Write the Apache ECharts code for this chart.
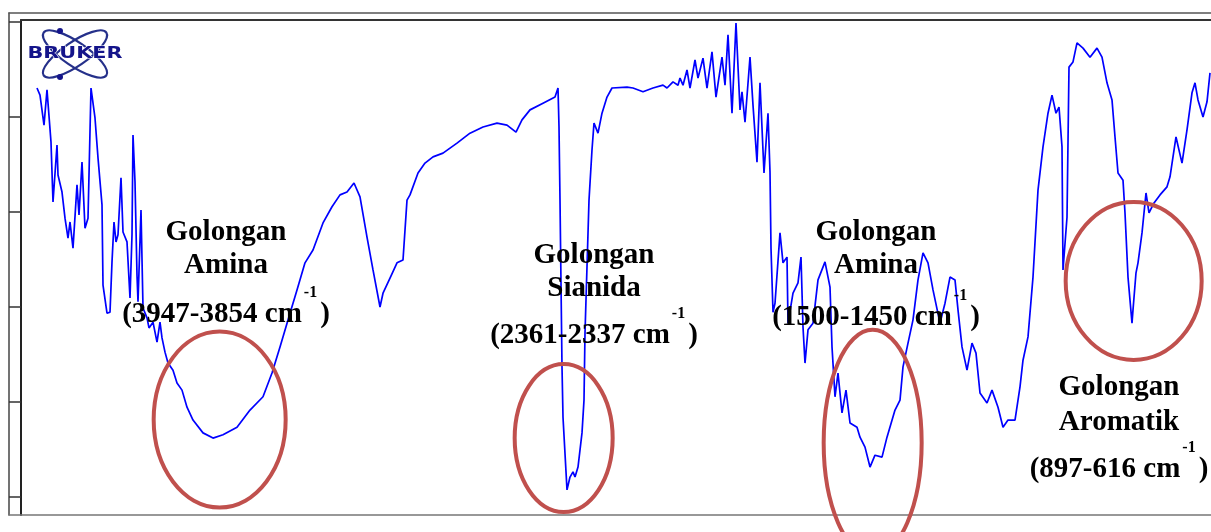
<!DOCTYPE html>
<html>
<head>
<meta charset="utf-8">
<title>FTIR</title>
<script src="https://cdn.jsdelivr.net/npm/echarts@6/dist/echarts.min.js"></script>
<style>
  html, body { margin: 0; padding: 0; background: #fff; }
  #chart { width: 1211px; height: 532px; }
</style>
</head>
<body>
<div id="chart"></div>
<script>
// wavenumber (cm-1) and transmittance (%)
const wavenumber = [
  3952, 3943, 3931, 3922, 3919, 3910, 3907, 3904, 3892, 3889, 3877, 3868, 3859, 3853, 3844, 3832, 3826, 3817, 3808, 3799,
  3790, 3778, 3769, 3757, 3754, 3742, 3733, 3727, 3721, 3715, 3709, 3700, 3694, 3682, 3673, 3667, 3664, 3658, 3652, 3649,
  3640, 3634, 3622, 3616, 3604, 3592, 3583, 3577, 3568, 3559, 3544, 3532, 3517, 3502, 3484, 3454, 3424, 3394, 3352, 3313,
  3274, 3247, 3223, 3193, 3172, 3148, 3124, 3094, 3067, 3043, 3022, 3001, 2983, 2962, 2944, 2923, 2914, 2893, 2872, 2854,
  2842, 2833, 2809, 2788, 2764, 2734, 2692, 2653, 2614, 2572, 2542, 2515, 2497, 2473, 2434, 2398, 2389, 2386, 2383, 2377,
  2374, 2362, 2353, 2344, 2338, 2329, 2317, 2311, 2308, 2296, 2287, 2281, 2269, 2257, 2242, 2227, 2182, 2164, 2134, 2104,
  2074, 2062, 2044, 2029, 2023, 2014, 2002, 1993, 1978, 1969, 1954, 1942, 1927, 1915, 1897, 1888, 1879, 1867, 1855, 1843,
  1837, 1828, 1813, 1804, 1792, 1783, 1771, 1759, 1753, 1750, 1744, 1738, 1723, 1714, 1702, 1699, 1684, 1669, 1660, 1654,
  1648, 1639, 1624, 1609, 1588, 1573, 1567, 1558, 1549, 1537, 1525, 1513, 1492, 1483, 1468, 1453, 1438, 1417, 1402, 1378,
  1363, 1354, 1339, 1324, 1309, 1294, 1279, 1264, 1243, 1228, 1213, 1198, 1189, 1177, 1162, 1147, 1135, 1123, 1102, 1087,
  1069, 1054, 1039, 1018, 1003, 994, 979, 964, 949, 934, 919, 907, 895, 886, 877, 874, 862, 856, 844, 832,
  814, 793, 772, 757, 742, 727, 718, 709, 694, 688, 679, 667, 664, 655, 649, 637, 625, 616, 601, 583,
  562, 553, 535, 517, 502, 487, 478, 469, 454, 442, 433
];
const transmittance = [
  86.1, 84.6, 78.3, 85.7, 85.3, 74.7, 68.4, 62.1, 74.1, 67.8, 64.2, 58.7, 54.5, 57.9, 52.4, 65.7, 59.4, 70.5, 56.6, 58.7,
  86.1, 79.8, 71.4, 61.5, 44.6, 38.7, 38.9, 49.5, 57.9, 53.7, 55.2, 67.2, 55.8, 53.7, 41.9, 55.2, 76.2, 66.3, 46.7, 41.1,
  60.4, 39.8, 37.7, 35.6, 36.8, 32.6, 36.8, 33.5, 30.5, 28.2, 26.7, 24.0, 22.5, 18.9, 16.2, 13.5, 12.4, 13.1, 14.7, 18.3,
  21.1, 26.1, 31.6, 38.7, 43.6, 49.3, 52.0, 57.7, 61.1, 63.6, 64.2, 66.1, 63.2, 54.7, 47.8, 40.0, 42.9, 46.1, 49.3, 49.9,
  62.5, 63.6, 68.2, 70.3, 71.6, 72.4, 74.5, 76.6, 77.9, 78.7, 78.3, 76.8, 79.4, 81.5, 82.9, 84.2, 86.1, 77.9, 62.5, 27.4,
  16.8, 1.5, 4.2, 5.3, 4.2, 6.3, 13.5, 20.4, 34.5, 62.5, 73.1, 78.7, 76.6, 80.8, 84.2, 86.1, 86.3, 86.1, 85.3, 86.1,
  86.7, 86.1, 87.4, 86.7, 88.2, 86.7, 89.9, 86.1, 92.0, 88.2, 92.4, 86.1, 93.7, 84.2, 92.6, 86.7, 97.3, 80.8, 99.8, 81.5,
  85.3, 78.9, 92.6, 82.5, 70.5, 87.2, 68.2, 80.8, 68.4, 52.4, 38.9, 40.8, 55.6, 49.3, 50.5, 36.6, 42.9, 45.1, 50.5, 35.8,
  28.2, 35.2, 36.6, 45.7, 49.5, 44.2, 31.6, 21.1, 26.1, 17.7, 22.5, 15.6, 14.7, 12.6, 10.5, 6.3, 8.8, 8.4, 12.6, 18.3,
  20.4, 27.4, 32.4, 37.3, 45.7, 51.4, 49.3, 43.6, 36.6, 40.8, 46.3, 45.7, 39.4, 31.6, 26.7, 32.4, 30.3, 21.9, 19.8, 22.5,
  18.9, 14.7, 16.2, 16.2, 23.2, 28.8, 33.7, 46.3, 64.6, 73.7, 80.8, 84.6, 80.8, 82.1, 73.7, 47.8, 58.9, 90.5, 91.6, 95.6,
  94.5, 92.6, 94.5, 92.6, 87.2, 83.6, 75.8, 68.2, 66.7, 59.8, 46.3, 36.6, 39.4, 47.2, 49.3, 55.6, 64.0, 59.8, 61.9, 63.6,
  65.3, 67.4, 75.8, 70.3, 77.3, 85.1, 87.2, 83.6, 80.0, 83.2, 89.3
];

// annotation texts
const groupNames = [['Golongan', 'Amina'], ['Golongan', 'Sianida'], ['Golongan', 'Amina'], ['Golongan', 'Aromatik']];
const groupRanges = ['(3947-3854 cm', '(2361-2337 cm', '(1500-1450 cm', '(897-616 cm'];
// where each label / circle sits, in [wavenumber, %T]
const labelAt = [[3385, 55.6], [2281, 50.8], [1435, 55.6], [706, 23.0]];
const circleAt = [[3404, 16.3], [2372, 12.4], [1445, 11.4], [662, 45.5]];

const circleSize = [[66, 88], [49, 74], [49, 113], [68, 79]];
const lineGaps = [[33, 82], [33, 80], [33, 85], [35, 82]];

const serif = '"Liberation Serif", "Times New Roman", serif';
const chart = echarts.init(document.getElementById('chart'));

const frameAxis = (extra, width, color) => Object.assign({
  type: 'value', min: 0, max: 1,
  axisLine: { show: true, onZero: false, lineStyle: { color: color, width: width } },
  axisTick: { show: false }, axisLabel: { show: false }, splitLine: { show: false }
}, extra);

chart.setOption({
  animation: false,
  backgroundColor: '#fff',
  grid: [
    { left: 21, top: 22, right: 0, bottom: 35 },
    { left: 9, top: 13, right: 0, bottom: 17 },
    { left: 21, top: 20, right: 0, bottom: 17 }
  ],
  xAxis: [
    // spectrum is cut at the right edge of the picture
    { gridIndex: 0, type: 'value', min: 430, max: 4000, inverse: true, show: false },
    frameAxis({ gridIndex: 1, position: 'top' }, 1.5, '#555'),
    frameAxis({ gridIndex: 1, position: 'bottom' }, 1.5, '#777'),
    frameAxis({ gridIndex: 2, position: 'top' }, 2, '#333')
  ],
  yAxis: [
    {
      gridIndex: 0, type: 'value', min: 0, max: 100, interval: 20,
      axisLine: { show: false },
      axisTick: { show: true, length: 12, lineStyle: { color: '#333', width: 1.5 } },
      axisLabel: { show: false }, splitLine: { show: false }
    },
    frameAxis({ gridIndex: 1, position: 'left' }, 1.5, '#444'),
    frameAxis({ gridIndex: 2, position: 'left' }, 2, '#222')
  ],
  series: [{
    type: 'line',
    xAxisIndex: 0, yAxisIndex: 0,
    data: wavenumber.map((w, i) => [w, transmittance[i]]),
    showSymbol: false, symbol: 'none',
    lineStyle: { color: '#0000ff', width: 1.7 },
    z: 3
  }]
});

const toPx = (p) => chart.convertToPixel({ seriesIndex: 0 }, p);
const graphics = [];

// bruker logo
const navy = '#14148a';
graphics.push(
  { type: 'ellipse', x: 75, y: 54, rotation: 0.6, shape: { cx: 0, cy: 0, rx: 38, ry: 12 }, style: { fill: 'none', stroke: '#25308a', lineWidth: 2.2 }, z: 100 },
  { type: 'ellipse', x: 75, y: 54, rotation: -0.6, shape: { cx: 0, cy: 0, rx: 38, ry: 12 }, style: { fill: 'none', stroke: '#25308a', lineWidth: 2.2 }, z: 100 },
  { type: 'circle', shape: { cx: 60, cy: 31, r: 3 }, style: { fill: navy }, z: 101 },
  { type: 'circle', shape: { cx: 60, cy: 77, r: 3 }, style: { fill: navy }, z: 101 },
  {
    type: 'text', x: 75, y: 54, scaleX: 1.3, z: 102,
    style: { text: 'BRUKER', x: 0, y: 0, align: 'center', verticalAlign: 'middle', fill: navy,
      stroke: '#fff', lineWidth: 1, fontSize: 16, fontWeight: 'bold', fontFamily: '"DejaVu Sans", sans-serif' }
  }
);

groupNames.forEach((names, i) => {
  const [lx, ly] = toPx(labelAt[i]);
  const [cx, cy] = toPx(circleAt[i]);
  const base = { fontSize: 29, fontWeight: 'bold', fontFamily: serif, fill: '#000' };
  graphics.push({
    type: 'ellipse', z: 110,
    shape: { cx: cx, cy: cy, rx: circleSize[i][0], ry: circleSize[i][1] },
    style: { fill: 'none', stroke: '#c0504d', lineWidth: 4 }
  });
  graphics.push({
    type: 'text', z: 120,
    style: Object.assign({ text: names[0], x: lx, y: ly, align: 'center', verticalAlign: 'middle' }, base)
  });
  graphics.push({
    type: 'text', z: 120,
    style: Object.assign({ text: names[1], x: lx, y: ly + lineGaps[i][0], align: 'center', verticalAlign: 'middle' }, base)
  });
  graphics.push({
    type: 'text', z: 120,
    style: {
      text: '{m|' + groupRanges[i] + '}{s|-1}{m|)}',
      x: lx, y: ly + lineGaps[i][1], align: 'center', verticalAlign: 'middle',
      rich: {
        m: base,
        s: { fontSize: 16, fontWeight: 'bold', fontFamily: serif, fill: '#000', padding: [0, 3, 44, 2] }
      }
    }
  });
});

chart.setOption({ graphic: { elements: graphics } });
</script>
</body>
</html>
